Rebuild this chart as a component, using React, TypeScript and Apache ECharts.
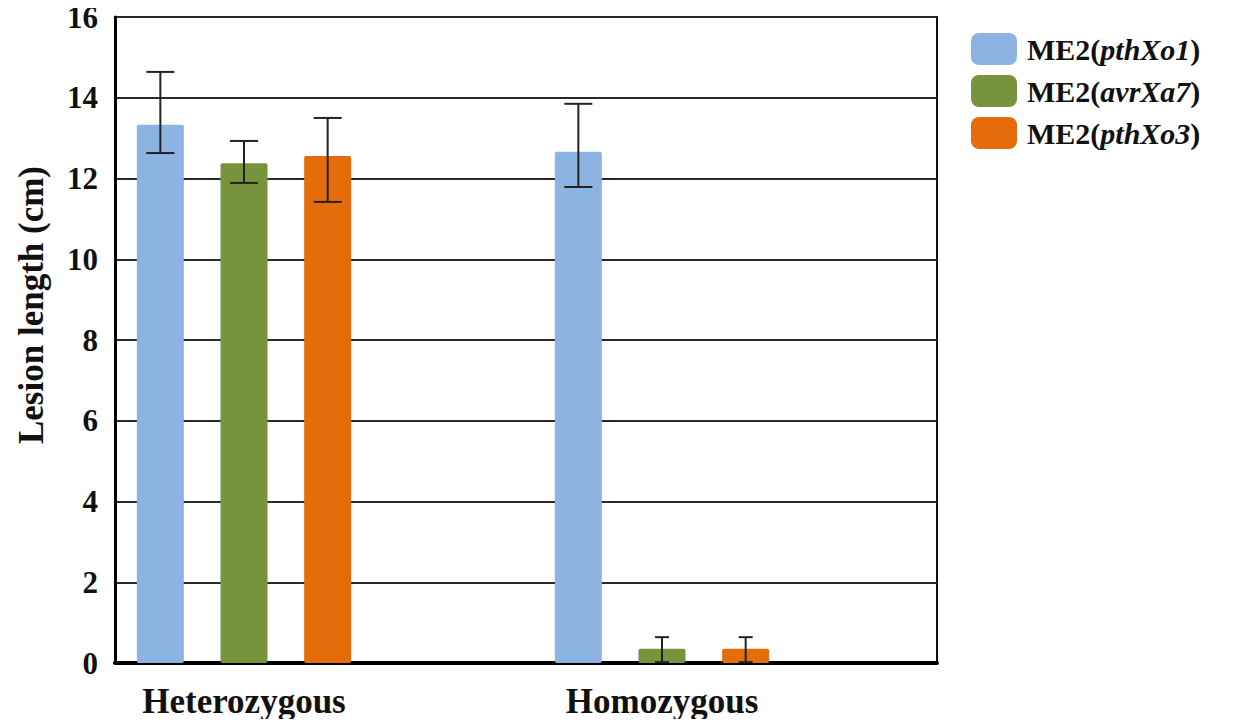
import React, { useEffect, useRef } from "react";
import * as echarts from "echarts";

const categories = ["Heterozygous", "Homozygous"];
const seriesNames = ["ME2(pthXo1)", "ME2(avrXa7)", "ME2(pthXo3)"];
const seriesColors = ["#8DB3E2", "#77933C", "#E46C0A"];

const pthXo1Mean = [13.33, 12.66];
const pthXo1Low = [12.63, 11.79];
const pthXo1High = [14.64, 13.85];

const avrXa7Mean = [12.38, 0.35];
const avrXa7Low = [11.89, 0.02];
const avrXa7High = [12.93, 0.64];

const pthXo3Mean = [12.56, 0.35];
const pthXo3Low = [11.42, 0.02];
const pthXo3High = [13.5, 0.64];

const yTicks = [0, 2, 4, 6, 8, 10, 12, 14, 16];

const means = [pthXo1Mean, avrXa7Mean, pthXo3Mean];
const lows = [pthXo1Low, avrXa7Low, pthXo3Low];
const highs = [pthXo1High, avrXa7High, pthXo3High];

const BAR_WIDTH = 47;
const BAR_GAP = 0.78;
const FONT = "'Liberation Serif', 'Times New Roman', serif";

export default function App() {
  const ref = useRef<HTMLDivElement>(null);

  useEffect(() => {
    if (!ref.current) return;
    const chart = echarts.init(ref.current, undefined, { renderer: "svg" });

    const barSeries = seriesNames.map((name, i) => ({
      name,
      type: "bar",
      xAxisIndex: 0,
      yAxisIndex: 0,
      barWidth: BAR_WIDTH,
      barGap: `${BAR_GAP * 100}%`,
      itemStyle: { color: seriesColors[i], borderRadius: 2 },
      data: means[i],
      z: 3,
    }));

    const errSeries = seriesNames.map((name, i) => ({
      name: `err-${name}`,
      type: "custom",
      xAxisIndex: 0,
      yAxisIndex: 0,
      z: 5,
      data: categories.map((c, k) => [k, lows[i][k], highs[i][k], means[i][k]]),
      encode: { x: 0, y: [1, 2] },
      renderItem: (params: any, api: any) => {
        const k = api.value(0);
        const lowP = api.coord([k, api.value(1)]);
        const highP = api.coord([k, api.value(2)]);
        const offset = BAR_WIDTH * (1 + BAR_GAP) * (i - 1);
        const x = lowP[0] + offset;
        const cap = api.value(3) < 1 ? 7 : 14;
        const style = { stroke: "#222", lineWidth: 2 };
        return {
          type: "group",
          children: [
            { type: "line", shape: { x1: x, y1: lowP[1], x2: x, y2: highP[1] }, style },
            { type: "line", shape: { x1: x - cap, y1: highP[1], x2: x + cap, y2: highP[1] }, style },
            { type: "line", shape: { x1: x - cap, y1: lowP[1], x2: x + cap, y2: lowP[1] }, style },
          ],
        };
      },
    }));

    chart.setOption({
      animation: false,
      backgroundColor: "#ffffff",
      textStyle: { fontFamily: FONT },
      grid: [
        { left: 35, right: 362, top: 17, bottom: 64, containLabel: false },
        {
          left: 115,
          right: 296,
          top: 17,
          bottom: 64,
          show: true,
          borderColor: "#111",
          borderWidth: 2,
          backgroundColor: "transparent",
        },
      ],
      xAxis: [
        {
          type: "category",
          gridIndex: 0,
          data: categories,
          axisLine: { show: false },
          axisTick: { show: false },
          axisLabel: {
            margin: 20,
            fontSize: 35,
            lineHeight: 36,
            fontWeight: "bold",
            color: "#111",
            fontFamily: FONT,
          },
          splitLine: { show: false },
        },
        {
          type: "value",
          gridIndex: 1,
          min: 0,
          max: 1,
          axisLine: { show: true, onZero: false, lineStyle: { color: "#000", width: 4 } },
          axisTick: { show: false },
          axisLabel: { show: false },
          splitLine: { show: false },
        },
      ],
      yAxis: [
        {
          type: "value",
          gridIndex: 0,
          min: 0,
          max: 16,
          interval: 2,
          show: false,
          splitLine: { show: false },
        },
        {
          type: "value",
          gridIndex: 1,
          min: 0,
          max: 16,
          interval: 2,
          axisLine: { show: true, lineStyle: { color: "#000", width: 3 } },
          axisTick: { show: false },
          axisLabel: {
            margin: 17,
            fontSize: 31,
            fontWeight: "bold",
            color: "#111",
            fontFamily: FONT,
            formatter: (v: number) => (yTicks.includes(v) ? String(v) : ""),
          },
          splitLine: { show: true, lineStyle: { color: "#2a2a2a", width: 2 } },
        },
      ],
      legend: {
        data: seriesNames,
        orient: "vertical",
        left: 966,
        top: 28,
        itemWidth: 46,
        itemHeight: 32,
        itemGap: 10,
        icon: "roundRect",
        textStyle: {
          fontFamily: FONT,
          fontSize: 30,
          color: "#111",
          padding: [0, 0, 0, 5],
          rich: {
            n: { fontFamily: FONT, fontSize: 30, fontWeight: "bold", color: "#111" },
            i: { fontFamily: FONT, fontSize: 30, fontStyle: "italic", fontWeight: "bold", color: "#111" },
          },
        },
        formatter: (name: string) => {
          const m = name.match(/^(ME2\()(.*)(\))$/);
          if (!m) return name;
          return `{n|${m[1]}}{i|${m[2]}}{n|${m[3]}}`;
        },
      },
      graphic: [
        {
          type: "text",
          x: 31,
          y: 305,
          rotation: Math.PI / 2,
          style: {
            text: "Lesion length (cm)",
            fontFamily: FONT,
            fontSize: 35,
            fontWeight: "bold",
            fill: "#111",
            textAlign: "center",
            textVerticalAlign: "middle",
          },
        },
      ],
      series: [...barSeries, ...errSeries],
    });

    return () => chart.dispose();
  }, []);

  return <div ref={ref} style={{ width: 1233, height: 727, margin: -8 }} />;
}
